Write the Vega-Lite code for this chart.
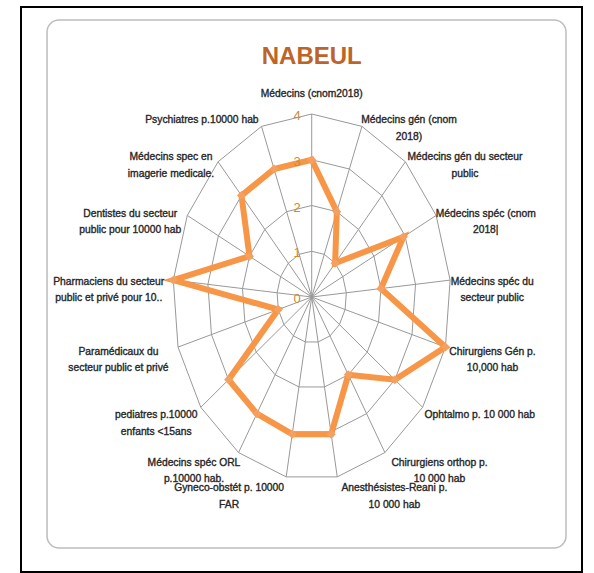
{
  "$schema": "https://vega.github.io/schema/vega-lite/v6.json",
  "width": 561,
  "height": 565,
  "autosize": {"type": "none"},
  "padding": {"left": 21, "top": 7, "right": 12, "bottom": 1},
  "background": "white",
  "config": {
    "view": {"stroke": "#000000", "strokeWidth": 2},
    "text": {"font": "Liberation Sans, Arial, sans-serif"}
  },
  "datasets": {
    "axes": [
      {"i": 0, "label": "Médecins (cnom2018)", "value": 3.0},
      {"i": 1, "label": "Médecins gén (cnom\n2018)", "value": 2.0},
      {"i": 2, "label": "Médecins gén du secteur\npublic", "value": 1.0},
      {"i": 3, "label": "Médecins spéc (cnom\n2018|", "value": 2.95},
      {"i": 4, "label": "Médecins spéc du\nsecteur public", "value": 2.0},
      {"i": 5, "label": "Chirurgiens Gén p.\n10,000 hab", "value": 4.0},
      {"i": 6, "label": "Ophtalmo p. 10 000 hab", "value": 3.0},
      {"i": 7, "label": "Chirurgiens orthop p.\n10 000 hab", "value": 2.0},
      {"i": 8, "label": "Anesthésistes-Reani p.\n10 000 hab", "value": 3.05},
      {"i": 9, "label": "Gyneco-obstét p. 10000\nFAR", "value": 3.05},
      {"i": 10, "label": "Médecins spéc ORL\np.10000 hab.", "value": 3.0},
      {"i": 11, "label": "pediatres p.10000\nenfants <15ans", "value": 3.0},
      {"i": 12, "label": "Paramédicaux du\nsecteur public et privé", "value": 1.0},
      {"i": 13, "label": "Pharmaciens du secteur\npublic et privé pour 10..", "value": 4.0},
      {"i": 14, "label": "Dentistes du secteur\npublic  pour 10000 hab", "value": 2.0},
      {"i": 15, "label": "Médecins spec en\nimagerie medicale.", "value": 3.0},
      {"i": 16, "label": "Psychiatres p.10000 hab", "value": 3.0}
    ],
    "ticks": [{"v": 0}, {"v": 1}, {"v": 2}, {"v": 3}, {"v": 4}],
    "heading": [{"t": "NABEUL"}]
  },
  "layer": [
    {
      "data": {"name": "heading"},
      "transform": [
        {"calculate": "-7.617", "as": "bx1"},
        {"calculate": "7.318", "as": "bx2"},
        {"calculate": "6.055", "as": "by1"},
        {"calculate": "-5.486", "as": "by2"}
      ],
      "mark": {"type": "rect", "cornerRadius": 12, "fill": "white", "stroke": "#BDBDBD", "strokeWidth": 1.5},
      "encoding": {
        "x": {"field": "bx1", "type": "quantitative", "scale": {"domain": [-8.366, 7.778], "nice": false, "zero": false}, "axis": null},
        "x2": {"field": "bx2"},
        "y": {"field": "by1", "type": "quantitative", "scale": {"domain": [-6.011, 6.339], "nice": false, "zero": false}, "axis": null},
        "y2": {"field": "by2"}
      }
    },
    {
      "data": {"name": "axes"},
      "transform": [
        {"calculate": "2 * PI * datum.i / 17", "as": "a"},
        {"calculate": "[1, 2, 3, 4]", "as": "levels"},
        {"flatten": ["levels"]},
        {"calculate": "datum.levels * sin(datum.a)", "as": "gx"},
        {"calculate": "datum.levels * cos(datum.a)", "as": "gy"}
      ],
      "mark": {"type": "line", "interpolate": "linear-closed", "stroke": "#999999", "strokeWidth": 1},
      "encoding": {
        "x": {"field": "gx", "type": "quantitative"},
        "y": {"field": "gy", "type": "quantitative"},
        "detail": {"field": "levels", "type": "nominal"},
        "order": {"field": "i", "type": "quantitative"}
      }
    },
    {
      "data": {"name": "axes"},
      "transform": [
        {"calculate": "2 * PI * datum.i / 17", "as": "a"},
        {"calculate": "0", "as": "o"},
        {"calculate": "4 * sin(datum.a)", "as": "tx"},
        {"calculate": "4 * cos(datum.a)", "as": "ty"}
      ],
      "mark": {"type": "rule", "stroke": "#999999", "strokeWidth": 1},
      "encoding": {
        "x": {"field": "o", "type": "quantitative"},
        "y": {"field": "o", "type": "quantitative"},
        "x2": {"field": "tx"},
        "y2": {"field": "ty"}
      }
    },
    {
      "data": {"name": "axes"},
      "transform": [
        {"calculate": "2 * PI * datum.i / 17", "as": "a"},
        {"calculate": "datum.value * sin(datum.a)", "as": "px"},
        {"calculate": "datum.value * cos(datum.a)", "as": "py"}
      ],
      "layer": [
        {
          "mark": {"type": "line", "interpolate": "linear-closed", "stroke": "#F79646", "strokeWidth": 6, "strokeJoin": "miter"},
          "encoding": {
            "x": {"field": "px", "type": "quantitative"},
            "y": {"field": "py", "type": "quantitative"},
            "order": {"field": "i", "type": "quantitative"}
          }
        },
        {
          "mark": {"type": "point", "shape": "diamond", "filled": true, "color": "#F4A060", "size": 80, "opacity": 1},
          "encoding": {
            "x": {"field": "px", "type": "quantitative"},
            "y": {"field": "py", "type": "quantitative"}
          }
        }
      ]
    },
    {
      "data": {"name": "ticks"},
      "transform": [{"calculate": "0", "as": "o"}],
      "mark": {"type": "text", "align": "right", "baseline": "middle", "dx": -11, "dy": 2, "fontSize": 13, "color": "#C98A3A"},
      "encoding": {
        "x": {"field": "o", "type": "quantitative"},
        "y": {"field": "v", "type": "quantitative"},
        "text": {"field": "v", "type": "quantitative"}
      }
    },
    {
      "data": {"name": "axes"},
      "transform": [
        {"calculate": "2 * PI * datum.i / 17", "as": "a"},
        {"calculate": "split(datum.label, '\\n')", "as": "lines"},
        {"calculate": "max(length(datum.lines[0]), datum.lines.length > 1 ? length(datum.lines[1]) : 0) * 2.5 / 34.75", "as": "hw"},
        {"calculate": "4 * sin(datum.a) + (datum.i == 0 ? 0 : (sin(datum.a) >= 0 ? 0.06 + datum.hw : -0.06 - datum.hw))", "as": "lx"},
        {"calculate": "datum.i == 0 ? 4.43 : 4 * cos(datum.a) + 0.2 * cos(datum.a) - 0.05", "as": "ly"}
      ],
      "mark": {"type": "text", "align": "center", "baseline": "middle", "fontSize": 10.3, "color": "#262626", "stroke": "#262626", "strokeWidth": 0.35, "lineHeight": 16.5},
      "encoding": {
        "x": {"field": "lx", "type": "quantitative"},
        "y": {"field": "ly", "type": "quantitative"},
        "text": {"field": "lines"}
      }
    },
    {
      "data": {"name": "heading"},
      "transform": [{"calculate": "0", "as": "o"}, {"calculate": "5.25", "as": "ty"}],
      "mark": {"type": "text", "align": "center", "baseline": "middle", "fontSize": 24, "fontWeight": "bold", "color": "#BE6428"},
      "encoding": {
        "x": {"field": "o", "type": "quantitative"},
        "y": {"field": "ty", "type": "quantitative"},
        "text": {"field": "t", "type": "nominal"}
      }
    }
  ]
}
